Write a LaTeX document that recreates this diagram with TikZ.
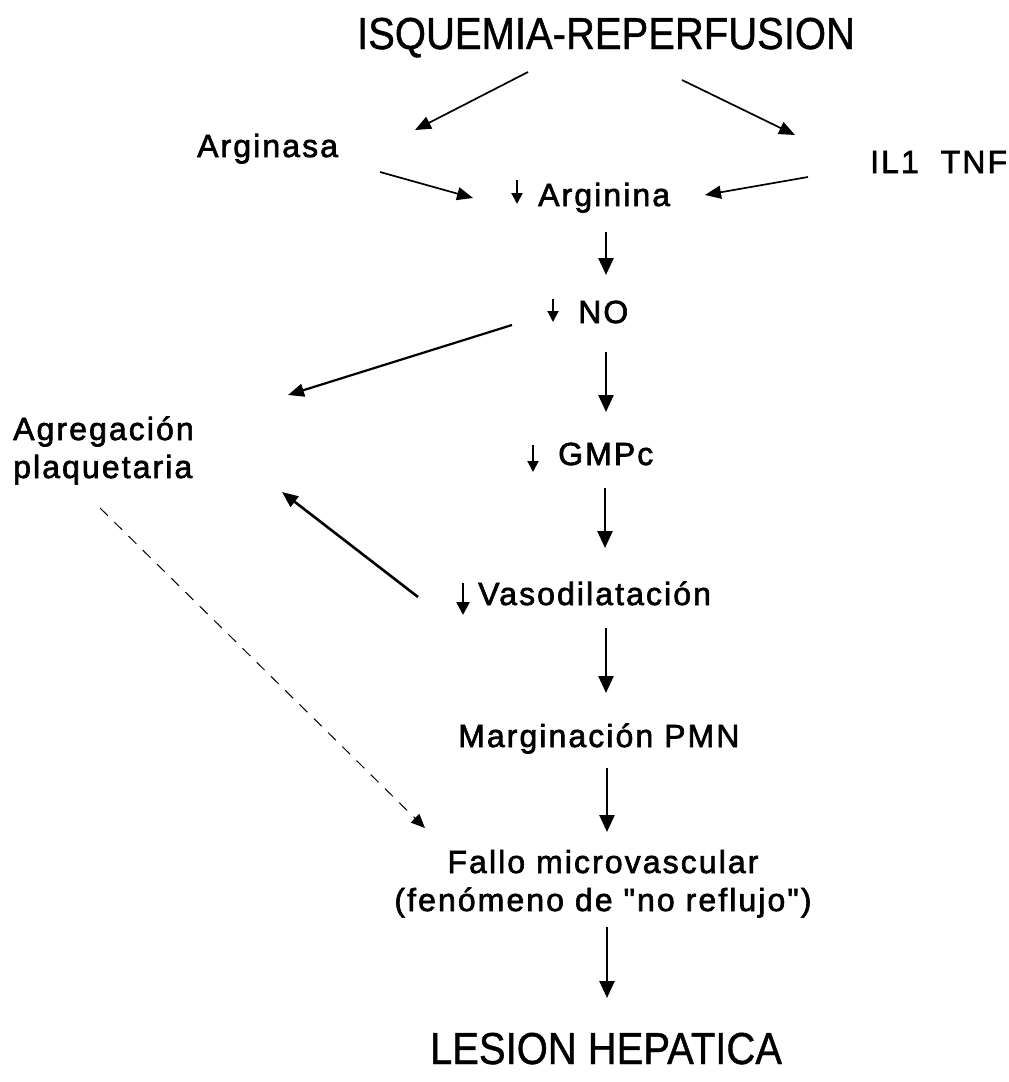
\documentclass[tikz,border=0pt]{standalone}
\usepackage{fontspec}
\usepackage{graphicx}
\usetikzlibrary{arrows.meta,calc}
\newfontfamily\lblfont[LetterSpace=6.5,FakeBold=2]{Liberation Sans}
\newfontfamily\ttlfont[FakeBold=1]{Liberation Sans}
\begin{document}
\begin{tikzpicture}[x=1pt,y=-1pt,
  lbl/.style={inner sep=0pt,anchor=base west,font=\lblfont\fontsize{32}{38}\selectfont},
  big/.style={inner sep=0pt,anchor=base,font=\ttlfont\fontsize{40}{48}\selectfont},
  conn/.style={line width=1.7pt,-{Triangle[length=16pt,width=13pt]}},
  vconn/.style={line width=2.5pt,-{Triangle[length=17pt,width=15pt]}},
  dconn/.style={line width=1pt,dash pattern=on 11pt off 9pt,-{Triangle[length=14pt,width=12pt]}},
  small/.style={line width=2pt,-{Triangle[length=11pt,width=11pt]}}
]
\useasboundingbox[fill=white] (0,0) rectangle (1009,1082);
% nodes
\node[big] (title) at (606,49) {\scalebox{1}[1.12]{ISQUEMIA-REPERFUSION}};
\node[lbl] (arginasa) at (197,157) {Arginasa};
\node[lbl] (il) at (870,173) {IL1\ \ TNF};
\node[lbl] (arg) at (538,206) {Arginina};
\node[lbl] (no) at (578,323) {NO};
\node[lbl,align=left] (agr) at (13,478) {Agregación\\plaquetaria};
\node[lbl] (gmpc) at (558,465) {GMPc};
\node[lbl] (vaso) at (478,605) {Vasodilatación};
\node[lbl] (marg) at (458,747) {Marginación PMN};
\node[lbl,anchor=base,align=center] (fallo) at (603,911) {Fallo microvascular\\(fenómeno de "no reflujo")};
\node[big] (lesion) at (606,1064) {\scalebox{1}[1.12]{LESION HEPATICA}};
% small decrease arrows
\draw[small] ($(arg.base west)+(-21,-26)$) -- ($(arg.base west)+(-21,-2)$);
\draw[small] ($(no.base west)+(-25,-24)$) -- ($(no.base west)+(-25,-1)$);
\draw[small] ($(gmpc.base west)+(-25,-20)$) -- ($(gmpc.base west)+(-25,7)$);
\draw[line width=2.6pt,-{Triangle[length=13pt,width=13pt]}] ($(vaso.base west)+(-15,-22)$) -- ($(vaso.base west)+(-15,10)$);
% connectors
\draw[conn] ($(title.base)+(-78,23)$) -- ($(arginasa.base west)+(218,-27)$);
\draw[conn] ($(title.base)+(76,31)$) -- ($(il.base west)+(-75,-38)$);
\draw[conn] ($(arginasa.base west)+(183,15)$) -- ($(arg.base west)+(-65,-8)$);
\draw[conn] ($(il.base west)+(-62,4)$) -- ($(arg.base west)+(167,-11)$);
\draw[vconn] ($(arg.base west)+(68,26)$) -- ($(no.base west)+(28,-48)$);
\draw[vconn] ($(no.base west)+(28,29)$) -- ($(gmpc.base west)+(48,-53)$);
\draw[vconn] ($(gmpc.base west)+(47,23)$) -- ($(vaso.base west)+(127,-57)$);
\draw[vconn] ($(vaso.base west)+(128,23)$) -- ($(marg.base west)+(148,-54)$);
\draw[vconn] ($(marg.base west)+(149,21)$) -- ($(fallo.base)+(4,-79)$);
\draw[vconn] ($(fallo.base)+(4,16)$) -- ($(lesion.base)+(1,-66)$);
\draw[conn,line width=2.2pt] ($(no.base west)+(-66,2)$) -- ($(agr.base west)+(275,-83)$);
\draw[conn,line width=2.6pt] ($(vaso.base west)+(-60,-8)$) -- ($(agr.base west)+(269,14)$);
\draw[dconn] ($(agr.base west)+(87,30)$) -- ($(fallo.base)+(-178,-83)$);
\end{tikzpicture}
\end{document}
